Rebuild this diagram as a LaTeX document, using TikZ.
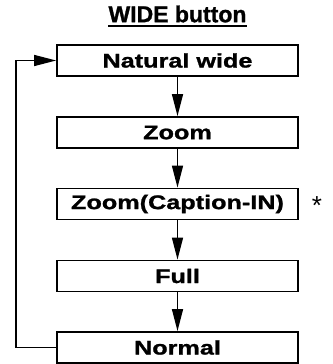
\documentclass[tikz,border=0pt]{standalone}
\usepackage{fontspec}
\setmainfont{Liberation Sans}
\newfontfamily\boxfont{Liberation Sans Bold}[FakeStretch=1.28,FakeBold=1.2]
\newfontfamily\titlefont{Liberation Sans Bold}[FakeBold=1.2]
\usetikzlibrary{arrows.meta}
\begin{document}
\begin{tikzpicture}[x=1pt,y=1pt,
  box/.style={draw, line width=1.8pt, minimum width=241pt, minimum height=31pt, inner sep=0pt,
    font=\boxfont\fontsize{19.7}{19.7}\selectfont},
  arr/.style={line width=1.4pt, -{Triangle[length=22pt,width=11pt]}}]
\useasboundingbox (0,0) rectangle (332,-364);
\node[inner sep=0pt, font=\titlefont\fontsize{23}{23}\selectfont] (t) at (177.5,-14) {WIDE button};
\draw[line width=1.5pt] ([yshift=-4pt]t.base west) -- ([yshift=-4pt]t.base east);
\node[box] (a) at (177.5,-60.5) {Natural wide};
\node[box] (b) at (177.5,-132.5) {Zoom};
\node[box] (c) at (177.5,-204) {Zoom(Caption-IN)};
\node[box] (d) at (177.5,-276) {Full};
\node[box] (e) at (177.5,-347.5) {Normal};
\node[inner sep=0pt, anchor=base, font=\fontsize{26}{26}\selectfont] (s) at (317,-214) {*};
\draw[arr] (a) -- (b);
\draw[arr] (b) -- (c);
\draw[arr] (c) -- (d);
\draw[arr] (d) -- (e);
\draw[arr] (e.west) -- ++(-40,0) |- (a.west);
\end{tikzpicture}
\end{document}
